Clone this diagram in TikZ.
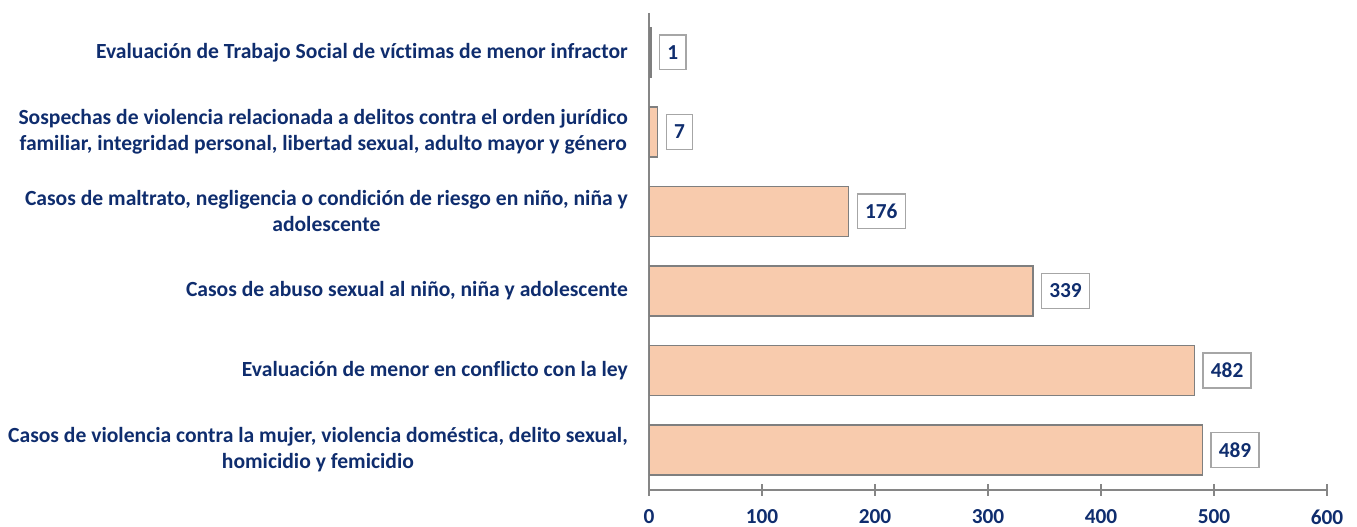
\documentclass[tikz,border=0pt]{standalone}
\usepackage{fontspec}
\setmainfont[RawFeature=-liga]{Carlito}
\definecolor{navy}{HTML}{0F2D6E}
\definecolor{barfill}{HTML}{F8CBAD}
\definecolor{barline}{HTML}{7F7F7F}
\definecolor{axisgray}{HTML}{868686}
\definecolor{boxgray}{HTML}{A6A6A6}
\begin{document}
\begin{tikzpicture}[x=0.75pt,y=-0.75pt,
  catlabel/.style={anchor=east,align=center,text=navy,font=\fontsize{16.2}{19.5}\selectfont\bfseries,inner sep=0pt},
  barbox/.style={draw=barline,fill=barfill,line width=1.1pt,minimum height=37.5pt,inner sep=0pt,anchor=west},
  valbox/.style={draw=boxgray,fill=white,line width=1pt,text=navy,font=\fontsize{16}{18}\selectfont\bfseries,minimum height=26pt,inner xsep=5.8pt,inner ysep=0pt,anchor=west},
  ticklab/.style={text=navy,font=\fontsize{16}{18}\selectfont\bfseries,inner sep=0pt},
  axisline/.style={draw=axisgray,line width=1.1pt}]
\useasboundingbox (0,0) rectangle (1357,527);
% axes
\coordinate (atop) at (649,13);
\coordinate (abot) at (649,496);
\coordinate (hl) at (649,490);
\coordinate (hr) at (1327,490);
\draw[axisline] (atop) -- (abot);
\draw[axisline] (hl) -- (hr);
\foreach \v [count=\i] in {0,100,200,300,400,500,600} {
  \coordinate (t\i a) at ({649+\v*1.13},484);
  \coordinate (t\i b) at ({649+\v*1.13},496);
  \draw[axisline] (t\i a) -- (t\i b);
  \node[ticklab] (tl\i) at ({649+\v*1.13},517) {\v};
}
% bars
\foreach \v/\y [count=\i] in {1/52.5,7/132,176/211.5,339/291,482/370.5,489/450} {
  \node[barbox,minimum width={\v*1.13*0.75pt}] (bar\i) at (649,\y) {};
  \node[valbox] (val\i) at ([xshift=5.5pt]bar\i.east) {\v};
}
% category labels
\node[catlabel] (c1) at (628,52.5) {Evaluación de Trabajo Social de víctimas de menor infractor};
\node[catlabel] (c2) at (628,132) {Sospechas de violencia relacionada a delitos contra el orden jurídico\\familiar, integridad personal, libertad sexual, adulto mayor y género};
\node[catlabel] (c3) at (628,211.5) {Casos de maltrato, negligencia o condición de riesgo en niño, niña y\\adolescente};
\node[catlabel] (c4) at (628,291) {Casos de abuso sexual al niño, niña y adolescente};
\node[catlabel] (c5) at (628,370.5) {Evaluación de menor en conflicto con la ley};
\node[catlabel] (c6) at (628,450) {Casos de violencia contra la mujer, violencia doméstica, delito sexual,\\homicidio y femicidio};
\end{tikzpicture}
\end{document}
